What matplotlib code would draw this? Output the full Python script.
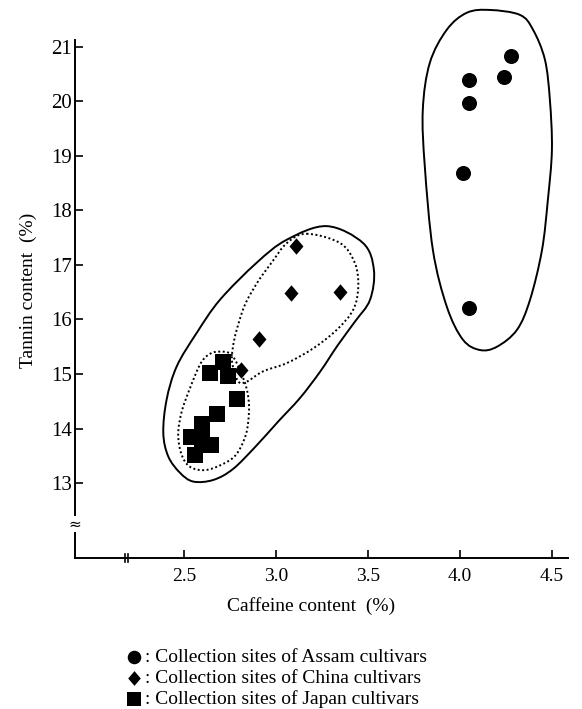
import numpy as np
import matplotlib
matplotlib.use("Agg")
import matplotlib.pyplot as plt
from matplotlib.path import Path
from matplotlib.patches import PathPatch

plt.rcParams['font.family'] = ['Liberation Serif', 'DejaVu Serif']

# caffeine (%) / tannin (%)
assam_x = [4.28, 4.24, 4.05, 4.05, 4.02, 4.05]
assam_y = [20.83, 20.44, 20.38, 19.96, 18.69, 16.21]

china_x = [3.11, 3.08, 3.35, 2.91, 2.81]
china_y = [17.34, 16.49, 16.51, 15.64, 15.08]

japan_x = [2.64, 2.71, 2.74, 2.79, 2.68, 2.60, 2.54, 2.65, 2.56, 2.60]
japan_y = [15.01, 15.22, 14.96, 14.54, 14.27, 14.09, 13.84, 13.70, 13.51, 13.81]

# hand-drawn outlines (solid = group, dotted = sub groups)
assam_hull_x = [4.164, 4.327, 4.398, 4.463, 4.490, 4.501, 4.479, 4.447, 4.382, 4.311,
                4.202, 4.110, 4.017, 3.930, 3.854, 3.810, 3.799, 3.837, 3.930, 4.039]
assam_hull_y = [21.67, 21.58, 21.31, 20.76, 20.02, 19.11, 18.19, 17.27, 16.36, 15.81,
                15.50, 15.44, 15.63, 16.23, 17.27, 18.80, 19.84, 20.70, 21.31, 21.62]

cj_hull_x = [3.276, 3.474, 3.533, 3.512, 3.430, 3.337, 3.240, 3.131, 3.010, 2.892,
             2.767, 2.660, 2.551, 2.479, 2.415, 2.388, 2.406, 2.461, 2.569, 2.696,
             2.896, 3.059]
cj_hull_y = [17.71, 17.40, 16.91, 16.36, 15.96, 15.53, 15.04, 14.56, 14.12, 13.68,
             13.26, 13.06, 13.03, 13.19, 13.49, 13.92, 14.53, 15.14, 15.75, 16.36,
             17.04, 17.46]

china_hull_x = [3.167, 3.349, 3.430, 3.448, 3.421, 3.331, 3.203, 3.059, 2.931, 2.841,
                2.794, 2.762, 2.767, 2.787, 2.832, 2.902, 2.979, 3.060]
china_hull_y = [17.57, 17.40, 17.03, 16.60, 16.18, 15.81, 15.47, 15.20, 15.05, 14.86,
                14.87, 15.22, 15.50, 15.81, 16.27, 16.69, 17.05, 17.40]

japan_hull_x = [2.687, 2.760, 2.823, 2.848, 2.854, 2.837, 2.783, 2.705, 2.614, 2.533,
                2.488, 2.469, 2.488, 2.533, 2.587, 2.632]
japan_hull_y = [15.41, 15.35, 14.92, 14.62, 14.31, 13.89, 13.52, 13.34, 13.24, 13.30,
                13.52, 13.89, 14.31, 14.74, 15.17, 15.35]

x_ticks = [2.5, 3.0, 3.5, 4.0, 4.5]
x_ticklabels = ['2.5', '3.0', '3.5', '4.0', '4.5']
y_ticks = [13, 14, 15, 16, 17, 18, 19, 20, 21]

labels = [': Collection sites of Assam cultivars',
          ': Collection sites of China cultivars',
          ': Collection sites of Japan cultivars']


def closed_curve(xs, ys):
    # closed catmull-rom through the outline points, as bezier segments
    p = np.column_stack([xs, ys])
    prev = np.roll(p, 1, axis=0)
    nxt = np.roll(p, -1, axis=0)
    nxt2 = np.roll(p, -2, axis=0)
    c1 = p + (nxt - prev) / 6
    c2 = nxt - (nxt2 - p) / 6
    verts = [p[0]]
    codes = [Path.MOVETO]
    for i in range(len(p)):
        verts += [c1[i], c2[i], nxt[i]]
        codes += [Path.CURVE4] * 3
    return Path(verts, codes)


fig = plt.figure(figsize=(5.82, 7.09), dpi=100)
ax = fig.add_axes([0.1289, 0.2130, 0.857, 0.7791])
ax.set_xlim(1.908, 4.62)
ax.set_ylim(11.63, 21.75)

dots = (0, (1, 1.3))
for hx, hy, ls in [(assam_hull_x, assam_hull_y, '-'), (cj_hull_x, cj_hull_y, '-'),
                   (china_hull_x, china_hull_y, dots),
                   (japan_hull_x, japan_hull_y, dots)]:
    ax.add_patch(PathPatch(closed_curve(hx, hy), fill=False, ec='black',
                           lw=1.4, ls=ls, zorder=1))

diamond = [(0, 1), (0.85, 0), (0, -1), (-0.85, 0)]
ax.scatter(assam_x, assam_y, s=117, marker='o', c='black', lw=0, zorder=3, label=labels[0])
ax.scatter(china_x, china_y, s=140, marker=diamond, c='black', lw=0, zorder=3, label=labels[1])
ax.scatter(japan_x, japan_y, s=118, marker='s', c='black', lw=0, zorder=3, label=labels[2])

for side in ['top', 'right']:
    ax.spines[side].set_visible(False)
ax.spines['left'].set_bounds(11.63, 21.12)
ax.spines['bottom'].set_bounds(1.908, 4.59)
ax.spines['left'].set_linewidth(1.4)
ax.spines['bottom'].set_linewidth(1.4)

ax.set_xticks(x_ticks)
ax.set_xticklabels(x_ticklabels)
ax.set_yticks(y_ticks)
ax.tick_params(axis='x', direction='in', length=6, width=1.2, pad=7, labelsize=14)
ax.tick_params(axis='y', direction='in', length=6, width=1.2, pad=2, labelsize=15)

# axis breaks
ax.plot([2.178, 2.178], [-0.007, 0.007], color='black', lw=1.2,
        transform=ax.get_xaxis_transform(), clip_on=False)
ax.plot([2.196, 2.196], [-0.007, 0.007], color='black', lw=1.2,
        transform=ax.get_xaxis_transform(), clip_on=False)
ax.text(1.908, 12.25, '≈', ha='center', va='center', fontsize=11,
        family=['DejaVu Sans'], clip_on=False,
        bbox=dict(fc='white', ec='none', pad=0.3))

ax.set_xlabel('Caffeine content  (%)', fontsize=14)
ax.xaxis.set_label_coords(0.473, -0.071)
ax.set_ylabel('Tannin content  (%)', fontsize=14)
ax.yaxis.set_label_coords(-0.077, 0.485)

fig.legend(loc='upper left', bbox_to_anchor=(0.195, 0.099), frameon=False,
           fontsize=14, handletextpad=0.0, labelspacing=0.17, borderpad=0,
           handlelength=1.1, markerscale=0.9)

fig.savefig('out.png', dpi=100)
